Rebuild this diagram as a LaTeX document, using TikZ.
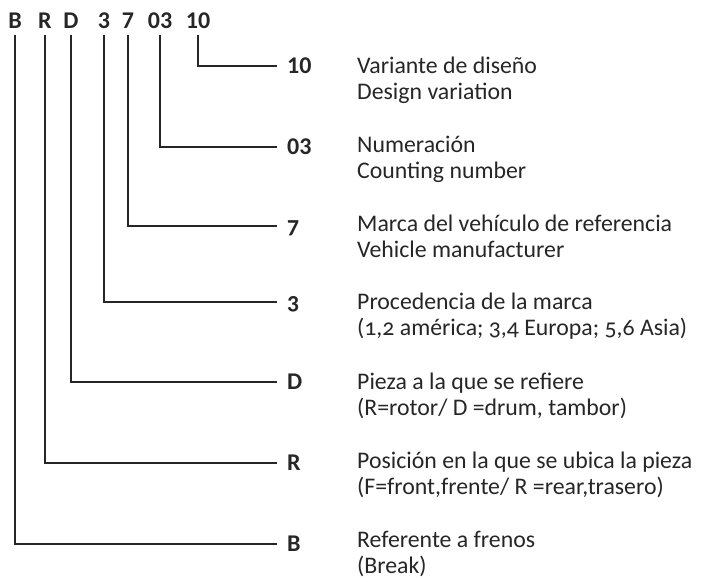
\documentclass[tikz,border=0pt]{standalone}
\usepackage{fontspec}
\setmainfont{Carlito}
\newfontfamily\descfont{Carlito}[Numbers=OldStyle]
\newfontfamily\labfont{Carlito}[Numbers=Lining]
\newfontfamily\labosfont{Carlito}[Numbers=OldStyle]
\definecolor{ink}{HTML}{262626}
\begin{document}
\begin{tikzpicture}[x=1pt,y=-1pt,
  every node/.style={text=ink},
  head/.style={font=\fontsize{24}{26}\selectfont\bfseries, anchor=base, inner xsep=0pt, inner ysep=7pt},
  lab/.style={font=\fontsize{24}{26}\selectfont\bfseries\labfont, anchor=west, inner xsep=10pt, inner ysep=2pt, text height=15pt, text depth=0pt},
  labos/.style={lab, font=\fontsize{24}{26}\selectfont\bfseries\labosfont},
  desc/.style={font=\fontsize{23.8}{26}\selectfont\descfont, anchor=base west, inner sep=0pt},
  conn/.style={draw=ink, line width=2pt}
]
\useasboundingbox (0,0) rectangle (724,579);
% header
\node[head] (hB) at (15,28) {B};
\node[head] (hR) at (45,28) {R};
\node[head] (hD) at (71,28) {D};
\node[head] (h3) at (104,28) {3};
\node[head] (h7) at (128,28) {7};
\node[head] (h03) at (160,28) {03};
\node[head] (h10) at (198,28) {10};
% labels
\node[lab] (l10) at (277,66) {10};
\node[lab] (l03) at (277,147) {03};
\node[labos] (l7) at (277,226) {7};
\node[labos] (l3) at (277,302) {3};
\node[lab] (lD) at (277,382) {D};
\node[lab] (lR) at (277,463) {R};
\node[lab] (lB) at (277,544) {B};
% descriptions
\newcommand\twoline[2]{\begin{tabular}[t]{@{}l@{}}#1\\#2\end{tabular}}
\node[desc] (d10) at (357,73) {\twoline{Variante de diseño}{Design variation}};
\node[desc] (d03) at (357,152) {\twoline{Numeración}{Counting number}};
\node[desc] (d7) at (357,231) {\twoline{Marca del vehículo de referencia}{Vehicle manufacturer}};
\node[desc] (d3) at (357,309) {\twoline{Procedencia de la marca}{(1,2 américa; 3,4 Europa; 5,6 Asia)}};
\node[desc] (dD) at (357,389) {\twoline{Pieza a la que se refiere}{(R=rotor/ D =drum, tambor)}};
\node[desc] (dR) at (357,468) {\twoline{Posición en la que se ubica la pieza}{(F=front,frente/ R =rear,trasero)}};
\node[desc] (dB) at (357,547) {\twoline{Referente a frenos}{(Break)}};
% connectors
\draw[conn] (h10.south) |- (l10.west);
\draw[conn] (h03.south) |- (l03.west);
\draw[conn] (h7.south) |- (l7.west);
\draw[conn] (h3.south) |- (l3.west);
\draw[conn] (hD.south) |- (lD.west);
\draw[conn] (hR.south) |- (lR.west);
\draw[conn] (hB.south) |- (lB.west);
\end{tikzpicture}
\end{document}
